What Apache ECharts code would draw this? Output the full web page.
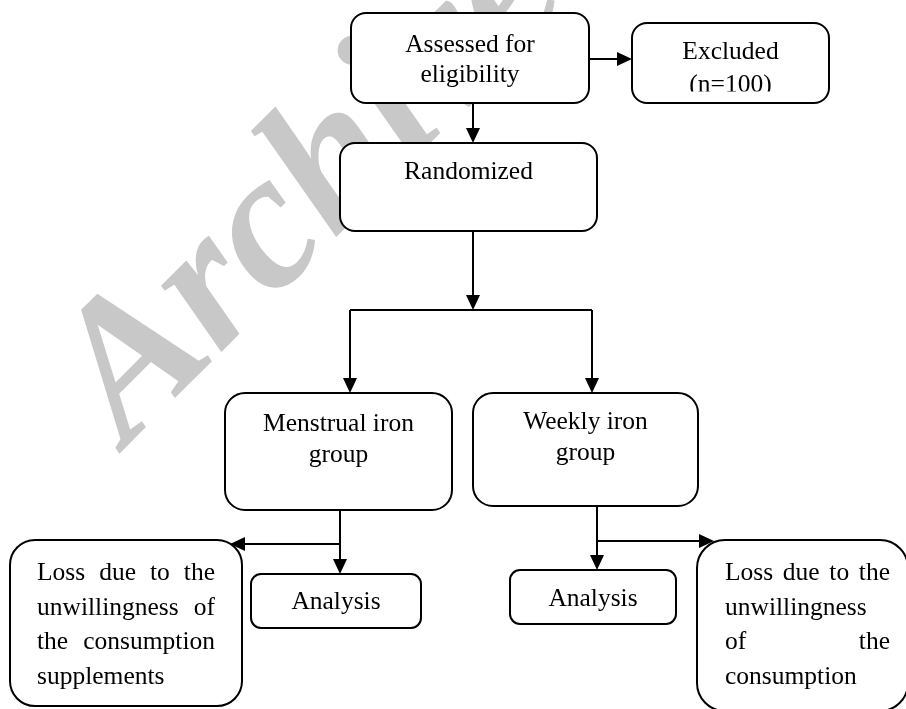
<!DOCTYPE html>
<html>
<head>
<meta charset="utf-8">
<script src="https://cdn.jsdelivr.net/npm/echarts@6/dist/echarts.min.js"></script>
<style>
html,body{margin:0;padding:0;background:#fff}
#flow{width:906px;height:709px}
</style>
</head>
<body>
<div id="flow"></div>
<script>
// texte des cases, une ligne par entree
var nodeLines = [
    ['Assessed for', 'eligibility'],
    ['Excluded', '(n=100)'],
    ['Randomized'],
    ['Menstrual iron', 'group'],
    ['Weekly iron', 'group'],
    ['Loss due to the', 'unwillingness of', 'the consumption', 'supplements'],
    ['Analysis'],
    ['Analysis'],
    ['Loss due to the', 'unwillingness', 'of the', 'consumption']
];

// layout: [x0, y0, x1, y1]
var nodeBoxes = [
    [351, 13, 589, 103],
    [632, 23, 829, 103],
    [340, 143, 597, 231],
    [225, 393, 452, 510],
    [473, 393, 698, 506],
    [10, 540, 242, 706],
    [251, 574, 421, 628],
    [510, 570, 676, 624],
    [697, 540, 908, 711]
];
var nodeRadius = [15, 15, 15, 20, 20, 25, 10, 10, 28];
var nodeBaseline = [54, 61, 181, 433, 431, 582, 611, 608, 582];
var nodeLineGap = [30, 33, 30, 31, 31, 34.5, 30, 30, 34.5];
var nodeJustify = [null, null, null, null, null, [37, 215], null, null, [725, 890]];
var nodeClipY = [null, 91.5, null, null, null, null, null, null, null];

// connecteurs
var linkPaths = [
    [[589, 59], [632, 59]],
    [[473, 103], [473, 143]],
    [[473, 231], [473, 310]],
    [[350, 310], [592, 310]],
    [[350, 310], [350, 393]],
    [[592, 310], [592, 393]],
    [[340, 510], [340, 574]],
    [[340, 544], [230, 544]],
    [[597, 506], [597, 570]],
    [[597, 541], [714, 541]]
];
var linkArrow = [true, true, true, false, true, true, true, true, true, true];

var fontSize = 25.5;
var fontFamily = '"Liberation Serif", "Times New Roman", serif';
var font = fontSize + 'px ' + fontFamily;
var midShift = 0.34 * fontSize;

var measureCtx = document.createElement('canvas').getContext('2d');
measureCtx.font = font;

function textEl(str, x, y, align) {
    return {
        type: 'text',
        style: {text: str, x: x, y: y, font: font, fill: '#000', align: align, verticalAlign: 'middle'}
    };
}

function renderBox(params, api) {
    var i = api.value(0);
    var b = nodeBoxes[i];
    var p0 = api.coord([b[0], b[1]]);
    var p1 = api.coord([b[2], b[3]]);
    var cx = (p0[0] + p1[0]) / 2;
    var lines = nodeLines[i];
    // fond blanc : le filigrane reste dessous
    var children = [{
        type: 'rect',
        shape: {x: p0[0], y: p0[1], width: p1[0] - p0[0], height: p1[1] - p0[1], r: nodeRadius[i]},
        style: {fill: '#fff'}
    }];

    for (var k = 0; k < lines.length; k++) {
        var y = api.coord([0, nodeBaseline[i] + k * nodeLineGap[i]])[1] - midShift;
        var span = nodeJustify[i];
        if (!span) {
            children.push(textEl(lines[k], cx, y, 'center'));
            continue;
        }
        var left = api.coord([span[0], 0])[0];
        var right = api.coord([span[1], 0])[0];
        var words = lines[k].split(' ');
        if (k == lines.length - 1 || words.length < 2) {
            children.push(textEl(lines[k], left, y, 'left'));
            continue;
        }
        var widths = words.map(function (w) { return measureCtx.measureText(w).width; });
        var total = widths.reduce(function (a, c) { return a + c; }, 0);
        var gap = (right - left - total) / (words.length - 1);
        var x = left;
        for (var j = 0; j < words.length; j++) {
            children.push(textEl(words[j], x, y, 'left'));
            x += widths[j] + gap;
        }
    }

    // texte coupe par le bas de la case
    if (nodeClipY[i] != null) {
        var cy = api.coord([0, nodeClipY[i]])[1];
        children.push({
            type: 'rect',
            shape: {x: p0[0] + 2, y: cy, width: p1[0] - p0[0] - 4, height: p1[1] - cy - 2},
            style: {fill: '#fff'}
        });
    }

    children.push({
        type: 'rect',
        shape: {x: p0[0], y: p0[1], width: p1[0] - p0[0], height: p1[1] - p0[1], r: nodeRadius[i]},
        style: {fill: null, stroke: '#000', lineWidth: 2}
    });
    return {type: 'group', children: children};
}

function renderLink(params, api) {
    var i = api.value(0);
    var pts = linkPaths[i].map(function (p) { return api.coord(p); });
    var children = [];
    var n = pts.length;
    if (linkArrow[i]) {
        var a = pts[n - 2], b = pts[n - 1];
        var dx = b[0] - a[0], dy = b[1] - a[1];
        var len = Math.sqrt(dx * dx + dy * dy);
        dx /= len; dy /= len;
        var L = 15, W = 7;
        var base = [b[0] - dx * L, b[1] - dy * L];
        pts = pts.slice(0, n - 1).concat([[base[0] + dx, base[1] + dy]]);
        children.push({
            type: 'polygon',
            shape: {points: [b, [base[0] - dy * W, base[1] + dx * W], [base[0] + dy * W, base[1] - dx * W]]},
            style: {fill: '#000'}
        });
    }
    children.unshift({
        type: 'polyline',
        shape: {points: pts},
        style: {stroke: '#000', lineWidth: 2, fill: null}
    });
    return {type: 'group', children: children};
}

var chart = echarts.init(document.getElementById('flow'), null, {renderer: 'canvas'});
var option = {
    backgroundColor: '#fff',
    animation: false,
    grid: {left: 0, right: 0, top: 0, bottom: 0},
    xAxis: {type: 'value', min: 0, max: 906, show: false},
    yAxis: {type: 'value', min: 0, max: 709, inverse: true, show: false},
    graphic: [{
        type: 'text',
        z: 0,
        x: 91,
        y: 411,
        rotation: 45 * Math.PI / 180,
        style: {
            text: 'Archive of SID',
            font: 'italic bold 195px ' + fontFamily,
            fill: '#c8c8c8',
            align: 'left',
            verticalAlign: 'middle'
        }
    }],
    series: [
        {
            type: 'custom',
            z: 3,
            renderItem: renderLink,
            data: linkPaths.map(function (p, i) { return [i, 0]; })
        },
        {
            type: 'custom',
            z: 4,
            renderItem: renderBox,
            data: nodeLines.map(function (l, i) { return [i, 0]; })
        }
    ]
};
chart.setOption(option);
</script>
</body>
</html>
